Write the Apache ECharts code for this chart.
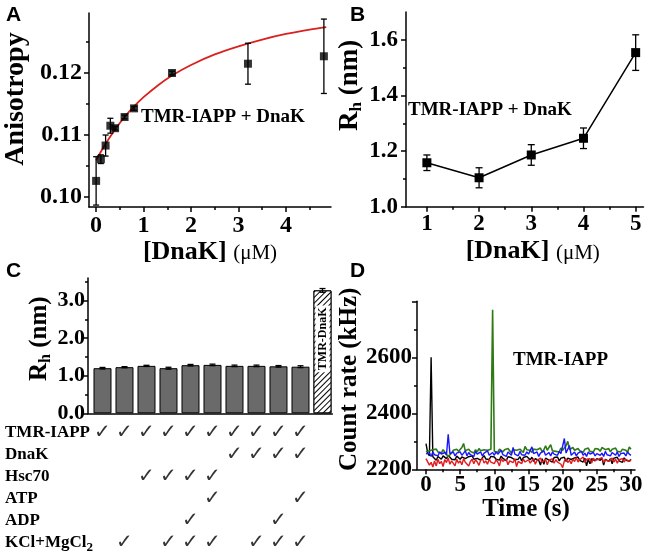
<!DOCTYPE html>
<html><head><meta charset="utf-8">
<script src="https://cdn.jsdelivr.net/npm/echarts@6/dist/echarts.min.js"></script>
<style>html,body{margin:0;padding:0;background:#fff}#c{width:651px;height:555px}</style>
</head><body><div id="c"></div>
<script>
// ---------- Panel A : anisotropy ----------
const anisoX = [0, 0.1, 0.2, 0.3, 0.4, 0.6, 0.8, 1.6, 3.2, 4.8];
const anisoY = [0.1026, 0.1061, 0.1083, 0.1115, 0.1111, 0.1129, 0.1143, 0.1200, 0.1215, 0.1227];
const anisoErr = [0.0039, 0.0007, 0.0017, 0.0012, 0.0003, 0.0003, 0.0003, 0.0003, 0.0033, 0.0060];
const fitX = [0, 0.1, 0.2, 0.4, 0.6, 0.8, 1.0, 1.3, 1.6, 2.0, 2.5, 3.0, 3.5, 4.0, 4.5, 4.85];
const fitY = [0.1059, 0.1073, 0.1086, 0.1109, 0.1129, 0.1146, 0.1161, 0.1180, 0.1196, 0.1213, 0.1230, 0.1243, 0.1254, 0.1263, 0.1270, 0.1274];
const aXTicks = [0, 1, 2, 3, 4];
const aXMinor = [0.5, 1.5, 2.5, 3.5, 4.5];
const aYTicks = [0.10, 0.11, 0.12];
const aYMinor = [0.105, 0.115, 0.125];

// ---------- Panel B : Rh vs DnaK ----------
const rhX = [1, 2, 3, 4, 5];
const rhY = [1.158, 1.104, 1.186, 1.246, 1.554];
const rhErr = [0.028, 0.036, 0.037, 0.037, 0.064];
const bXTicks = [1, 2, 3, 4, 5];
const bXMinor = [1.5, 2.5, 3.5, 4.5];
const bYTicks = [1.0, 1.2, 1.4, 1.6];
const bYMinor = [1.1, 1.3, 1.5];

// ---------- Panel C : bars + table ----------
const barRh = [1.20, 1.227, 1.262, 1.20, 1.28, 1.288, 1.262, 1.262, 1.25, 1.24];
const barErr = [0.02, 0.015, 0.015, 0.025, 0.02, 0.02, 0.02, 0.02, 0.02, 0.025];
const dnakRh = 3.27;
const dnakErr = 0.05;
const dnakLabel = 'TMR-DnaK';
const cYTicks = [0, 1, 2, 3];
const cYMinor = [0.5, 1.5, 2.5, 3.5];
const tableRows = ['TMR-IAPP', 'DnaK', 'Hsc70', 'ATP', 'ADP', 'KCl+MgCl2'];
const tmrIappChecks = [1, 2, 3, 4, 5, 6, 7, 8, 9, 10];
const dnakChecks = [7, 8, 9, 10];
const hsc70Checks = [3, 4, 5, 6];
const atpChecks = [6, 10];
const adpChecks = [5, 9];
const kclChecks = [2, 4, 5, 6, 8, 9, 10];

// ---------- Panel D : count-rate traces (0.25 s sampling) ----------
const timeStep = 0.25;
const traceBlack = [2292,2258,2248,2600,2245,2238,2232,2246,2240,2236,2248,2242,2238,2250,2244,2236,2242,2234,2247,2240,
2236,2244,2250,2238,2232,2245,2240,2248,2236,2242,2239,2246,2233,2241,2249,2237,2243,2235,2246,2240,
2244,2236,2241,2233,2247,2239,2243,2231,2245,2238,2242,2248,2234,2240,2236,2245,2230,2242,2238,2246,
2240,2234,2243,2228,2238,2244,2232,2215,2238,2218,2240,2245,2233,2238,2226,2242,2236,2244,2230,2240,
2236,2243,2228,2240,2246,2235,2230,2241,2237,2244,2232,2238,2226,2240,2212,2236,2220,2238,2242,2230,
2238,2244,2232,2240,2215,2236,2242,2228,2238,2220,2240,2234,2243,2230,2237,2225,2241,2233,2238,2228,2236];
const traceRed = [2238,2232,2215,2225,2208,2230,2212,2236,2220,2228,2210,2235,2224,2240,2218,2230,2226,2212,2236,2222,
2230,2216,2238,2225,2232,2212,2228,2236,2220,2234,2226,2214,2232,2240,2222,2230,2218,2236,2226,2232,
2220,2234,2226,2212,2238,2228,2222,2236,2216,2230,2234,2224,2238,2210,2228,2232,2220,2236,2226,2230,
2234,2222,2230,2238,2218,2232,2226,2240,2224,2230,2236,2216,2232,2228,2238,2222,2234,2226,2230,2218,
2206,2230,2238,2224,2232,2220,2236,2228,2242,2226,2234,2230,2244,2224,2236,2230,2238,2222,2240,2232,
2226,2236,2230,2242,2224,2234,2238,2228,2232,2240,2226,2236,2222,2234,2230,2238,2226,2236,2232,2228,2234];
const traceGreen = [2262,2255,2266,2260,2270,2264,2272,2262,2268,2258,2270,2262,2266,2245,2250,2258,2268,2262,2272,2264,
2270,2278,2292,2266,2260,2272,2264,2268,2258,2270,2262,2274,2266,2260,2270,2264,2268,2262,2272,2770,
2264,2268,2260,2272,2266,2262,2270,2264,2274,2266,2258,2270,2264,2268,2262,2272,2266,2260,2282,2270,
2264,2268,2260,2272,2266,2270,2264,2276,2262,2270,2284,2268,2274,2288,2266,2272,2264,2270,2262,2276,
2268,2274,2284,2300,2270,2266,2278,2268,2262,2274,2266,2270,2260,2272,2266,2276,2264,2270,2262,2274,
2268,2272,2264,2278,2285,2270,2266,2274,2262,2272,2268,2276,2264,2270,2262,2272,2266,2268,2260,2280,2272];
const traceBlue = [2255,2250,2258,2246,2262,2252,2258,2248,2262,2254,2248,2260,2252,2325,2256,2250,2262,2248,2258,2252,
2262,2250,2256,2266,2248,2260,2252,2258,2246,2264,2254,2250,2262,2248,2258,2252,2266,2250,2256,2260,
2250,2262,2254,2248,2268,2252,2258,2246,2262,2256,2250,2278,2254,2260,2248,2264,2252,2258,2250,2262,
2254,2248,2280,2256,2250,2262,2246,2258,2252,2266,2250,2256,2260,2248,2262,2254,2258,2250,2264,2256,
2252,2310,2258,2262,2285,2250,2256,2262,2248,2258,2254,2264,2250,2258,2246,2262,2254,2250,2260,2248,
2256,2262,2250,2258,2246,2264,2252,2256,2248,2260,2254,2250,2262,2246,2256,2252,2258,2248,2262,2254,2250];
const dXTicks = [0, 5, 10, 15, 20, 25, 30];
const dXMinor = [2.5, 7.5, 12.5, 17.5, 22.5, 27.5];
const dYTicks = [2200, 2400, 2600, 2800];
const dYLabels = [2200, 2400, 2600];
const dYMinor = [2300, 2500, 2700];

// ---------- helpers ----------
const SERIF = '"Liberation Serif","Times New Roman",serif';
function valAxis(o) {
  return {
    type: 'value', gridIndex: o.grid, min: o.min, max: o.max, position: o.pos,
    axisLine: { show: o.line !== false, onZero: false, lineStyle: { color: '#000', width: 1.5 } },
    axisTick: o.ticks ? { show: true, inside: false, length: o.tickLen || 5, customValues: o.ticks,
      lineStyle: { color: '#000', width: 1.5 } } : { show: false },
    axisLabel: o.labels ? { show: true, customValues: o.labels, formatter: o.fmt, margin: o.margin,
      color: '#000', fontFamily: SERIF, fontWeight: 'bold', fontSize: o.fs } : { show: false },
    splitLine: { show: false },
    minorTick: { show: false },
    name: o.name || '', nameLocation: 'middle', nameGap: o.nameGap, nameRotate: o.nameRotate,
    nameTextStyle: o.nameStyle
  };
}
function errRender(cap, lw) {
  return function (params, api) {
    const x = api.value(0), y = api.value(1), e = api.value(2);
    const t = api.coord([x, y + e]), b = api.coord([x, y - e]);
    const st = { stroke: '#000', lineWidth: lw };
    return { type: 'group', children: [
      { type: 'line', shape: { x1: t[0], y1: t[1], x2: b[0], y2: b[1] }, style: st },
      { type: 'line', shape: { x1: t[0] - cap, y1: t[1], x2: t[0] + cap, y2: t[1] }, style: st },
      { type: 'line', shape: { x1: b[0] - cap, y1: b[1], x2: b[0] + cap, y2: b[1] }, style: st }
    ] };
  };
}
const nameX = {
  rich: {
    b: { fontFamily: SERIF, fontWeight: 'bold', fontSize: 26, color: '#000', lineHeight: 30 },
    n: { fontFamily: SERIF, fontWeight: 'normal', fontSize: 21, color: '#000', lineHeight: 30, padding: [4, 0, 0, 0] }
  }
};
function rhName(fs, sfs, shift) {
  return {
    padding: [0, 0, 0, shift],
    rich: {
      m: { fontFamily: SERIF, fontWeight: 'bold', fontSize: fs, color: '#000', lineHeight: fs + 3 },
      s: { fontFamily: SERIF, fontWeight: 'bold', fontSize: sfs, color: '#000', lineHeight: sfs - 3, padding: [Math.round(fs * 0.5), 0, 0, 0] }
    }
  };
}

const checkData = [];
[tmrIappChecks, dnakChecks, hsc70Checks, atpChecks, adpChecks, kclChecks].forEach((arr, r) => {
  arr.forEach(i => checkData.push([i, tableRows[r]]));
});
const times = traceBlack.map((_, i) => i * timeStep);
const pair = (xs, ys) => ys.map((y, i) => [xs[i], y]);

const cMin = 0.341, cMax = 11.45;

const option = {
  animation: false,
  backgroundColor: '#fff',
  grid: [
    { left: 89, top: 13, width: 242, height: 194, containLabel: false, outerBoundsMode: 'none' },
    { left: 406, top: 12, width: 237.5, height: 194.7, containLabel: false, outerBoundsMode: 'none' },
    { left: 88, top: 278, width: 244.4, height: 135.3, containLabel: false, outerBoundsMode: 'none' },
    { left: 417, top: 301.3, width: 218, height: 168, containLabel: false, outerBoundsMode: 'none' },
    { left: 88, top: 422, width: 244.4, height: 132, containLabel: false, outerBoundsMode: 'none' }
  ],
  xAxis: [
    valAxis({ grid: 0, min: -0.15, max: 4.95, pos: 'bottom', ticks: aXTicks, labels: aXTicks, fmt: v => String(v), fs: 24, margin: 7,
      name: '{b|[DnaK] }{n|(μM)}', nameGap: 28, nameStyle: nameX }),
    valAxis({ grid: 0, min: -0.15, max: 4.95, pos: 'bottom', line: false, ticks: aXMinor, tickLen: 3 }),
    valAxis({ grid: 1, min: 0.6, max: 5.15, pos: 'bottom', ticks: bXTicks, labels: bXTicks, fmt: v => String(v), fs: 23, margin: 6,
      name: '{b|[DnaK] }{n|(μM)}', nameGap: 30, nameStyle: Object.assign({ padding: [0, 0, 0, 16] }, nameX) }),
    valAxis({ grid: 1, min: 0.6, max: 5.15, pos: 'bottom', line: false, ticks: bXMinor, tickLen: 3 }),
    valAxis({ grid: 2, min: cMin, max: cMax, pos: 'bottom' }),
    valAxis({ grid: 3, min: -1.317, max: 30.59, pos: 'bottom', ticks: dXTicks, labels: dXTicks, fmt: v => String(v), fs: 23, margin: 4,
      name: 'Time (s)', nameGap: 28, nameStyle: { fontFamily: SERIF, fontWeight: 'bold', fontSize: 25, color: '#000' } }),
    valAxis({ grid: 3, min: -1.317, max: 30.59, pos: 'bottom', line: false, ticks: dXMinor, tickLen: 3 }),
    Object.assign(valAxis({ grid: 4, min: cMin, max: cMax, pos: 'bottom', line: false }), { show: false })
  ],
  yAxis: [
    valAxis({ grid: 0, min: 0.09839, max: 0.12968, pos: 'left', ticks: aYTicks, labels: aYTicks, fmt: v => v.toFixed(2), fs: 24, margin: 7,
      name: 'Anisotropy', nameGap: 59, nameRotate: 90,
      nameStyle: { fontFamily: SERIF, fontWeight: 'bold', fontSize: 28, color: '#000', padding: [0, 0, 0, 22] } }),
    valAxis({ grid: 0, min: 0.09839, max: 0.12968, pos: 'left', line: false, ticks: aYMinor, tickLen: 3 }),
    valAxis({ grid: 1, min: 1.0, max: 1.7, pos: 'left', ticks: bYTicks, labels: bYTicks, fmt: v => v.toFixed(1), fs: 23, margin: 8,
      name: '{m|R}{s|h}{m| (nm)}', nameGap: 38, nameRotate: 90, nameStyle: rhName(27, 17, 48) }),
    valAxis({ grid: 1, min: 1.0, max: 1.7, pos: 'left', line: false, ticks: bYMinor, tickLen: 3 }),
    valAxis({ grid: 2, min: 0, max: 3.6, pos: 'left', ticks: cYTicks, labels: cYTicks, fmt: v => v.toFixed(1), fs: 22, margin: 3,
      name: '{m|R}{s|h}{m| (nm)}', nameGap: 31, nameRotate: 90, nameStyle: rhName(25, 16, 14) }),
    valAxis({ grid: 2, min: 0, max: 3.6, pos: 'left', line: false, ticks: cYMinor, tickLen: 3 }),
    valAxis({ grid: 3, min: 2200, max: 2800, pos: 'left', ticks: dYTicks, labels: dYLabels, fmt: v => String(v), fs: 23, margin: 5,
      name: 'Count rate (kHz)', nameGap: 52, nameRotate: 90,
      nameStyle: { fontFamily: SERIF, fontWeight: 'bold', fontSize: 25, color: '#000', padding: [0, 0, 0, 12] } }),
    valAxis({ grid: 3, min: 2200, max: 2800, pos: 'left', line: false, ticks: dYMinor, tickLen: 3 }),
    {
      type: 'category', gridIndex: 4, data: tableRows, inverse: true, position: 'left',
      axisLine: { show: false }, axisTick: { show: false }, splitLine: { show: false },
      axisLabel: {
        show: true, align: 'left', margin: 83,
        formatter: v => v === 'KCl+MgCl2' ? '{m|KCl+MgCl}{s|2}' : '{m|' + v + '}',
        rich: {
          m: { fontFamily: SERIF, fontWeight: 'bold', fontSize: 17, color: '#000', lineHeight: 20 },
          s: { fontFamily: SERIF, fontWeight: 'bold', fontSize: 13, color: '#000', lineHeight: 10, padding: [10, 0, 0, 0] }
        }
      }
    }
  ],
  series: [
    { type: 'line', xAxisIndex: 0, yAxisIndex: 0, data: pair(fitX, fitY), smooth: 0.3, showSymbol: false,
      lineStyle: { color: '#d9211f', width: 1.8 }, z: 2 },
    { type: 'custom', xAxisIndex: 0, yAxisIndex: 0, renderItem: errRender(3, 1.3),
      data: anisoX.map((x, i) => [x, anisoY[i], anisoErr[i]]), encode: { x: 0, y: 1 }, z: 3 },
    { type: 'scatter', xAxisIndex: 0, yAxisIndex: 0, data: pair(anisoX, anisoY), symbol: 'rect', symbolSize: 8,
      itemStyle: { color: '#000' }, z: 4 },

    { type: 'custom', xAxisIndex: 2, yAxisIndex: 2, renderItem: errRender(3.5, 1.3),
      data: rhX.map((x, i) => [x, rhY[i], rhErr[i]]), encode: { x: 0, y: 1 }, z: 3 },
    { type: 'line', xAxisIndex: 2, yAxisIndex: 2, data: pair(rhX, rhY), symbol: 'rect', symbolSize: 9,
      lineStyle: { color: '#000', width: 1.5 }, itemStyle: { color: '#000' }, z: 4 },

    { type: 'bar', xAxisIndex: 4, yAxisIndex: 4, barWidth: 18, barGap: '-100%',
      data: barRh.map((v, i) => [i + 1, v]),
      itemStyle: { color: '#6a6a6a', borderColor: '#000', borderWidth: 1 }, z: 2 },
    { type: 'bar', xAxisIndex: 4, yAxisIndex: 4, barWidth: 18, barGap: '-100%',
      data: [[11, dnakRh]],
      itemStyle: { color: '#fff', borderColor: '#000', borderWidth: 1,
        decal: { symbol: 'rect', symbolSize: 1, dashArrayX: [1, 0], dashArrayY: [0.8, 2.6], rotation: -Math.PI / 4, color: '#000', backgroundColor: '#fff' } },
      label: { show: true, position: 'inside', rotate: 90, formatter: dnakLabel, offset: [13, 0],
        fontFamily: SERIF, fontWeight: 'bold', fontSize: 12, color: '#000', backgroundColor: '#fff', padding: [1, 2] }, z: 2 },
    { type: 'custom', xAxisIndex: 4, yAxisIndex: 4, renderItem: errRender(3, 1.3),
      data: barRh.map((v, i) => [i + 1, v, barErr[i]]).concat([[11, dnakRh, dnakErr]]), encode: { x: 0, y: 1 }, z: 5 },

    { type: 'scatter', xAxisIndex: 7, yAxisIndex: 8, data: checkData, symbol: 'circle', symbolSize: 1,
      itemStyle: { color: 'rgba(0,0,0,0)' },
      label: { show: true, position: 'inside', formatter: '✓', fontFamily: '"DejaVu Sans"', fontWeight: 'bold', fontSize: 20, color: '#000' } },

    { type: 'line', xAxisIndex: 5, yAxisIndex: 6, data: pair(times, traceBlack), showSymbol: false, lineStyle: { color: '#000', width: 1.4 } },
    { type: 'line', xAxisIndex: 5, yAxisIndex: 6, data: pair(times, traceRed), showSymbol: false, lineStyle: { color: '#e3191c', width: 1.4 } },
    { type: 'line', xAxisIndex: 5, yAxisIndex: 6, data: pair(times, traceGreen), showSymbol: false, lineStyle: { color: '#2f7a14', width: 1.6 } },
    { type: 'line', xAxisIndex: 5, yAxisIndex: 6, data: pair(times, traceBlue), showSymbol: false, lineStyle: { color: '#1b14ff', width: 1.4 } }
  ],
  graphic: [
    { type: 'text', x: 6, y: 15, style: { text: 'A', font: 'bold 21px "Liberation Sans"', fill: '#000', verticalAlign: 'middle' } },
    { type: 'text', x: 350, y: 15, style: { text: 'B', font: 'bold 21px "Liberation Sans"', fill: '#000', verticalAlign: 'middle' } },
    { type: 'text', x: 6, y: 271, style: { text: 'C', font: 'bold 21px "Liberation Sans"', fill: '#000', verticalAlign: 'middle' } },
    { type: 'text', x: 350, y: 271, style: { text: 'D', font: 'bold 21px "Liberation Sans"', fill: '#000', verticalAlign: 'middle' } },
    { type: 'text', x: 141, y: 117, style: { text: 'TMR-IAPP + DnaK', font: 'bold 19px "Liberation Serif"', fill: '#000', verticalAlign: 'middle' } },
    { type: 'text', x: 408, y: 110, style: { text: 'TMR-IAPP + DnaK', font: 'bold 19px "Liberation Serif"', fill: '#000', verticalAlign: 'middle' } },
    { type: 'text', x: 513, y: 360, style: { text: 'TMR-IAPP', font: 'bold 19px "Liberation Serif"', fill: '#000', verticalAlign: 'middle' } }
  ]
};
const chart = echarts.init(document.getElementById('c'), null, { renderer: 'canvas' });
chart.setOption(option);
</script></body></html>
